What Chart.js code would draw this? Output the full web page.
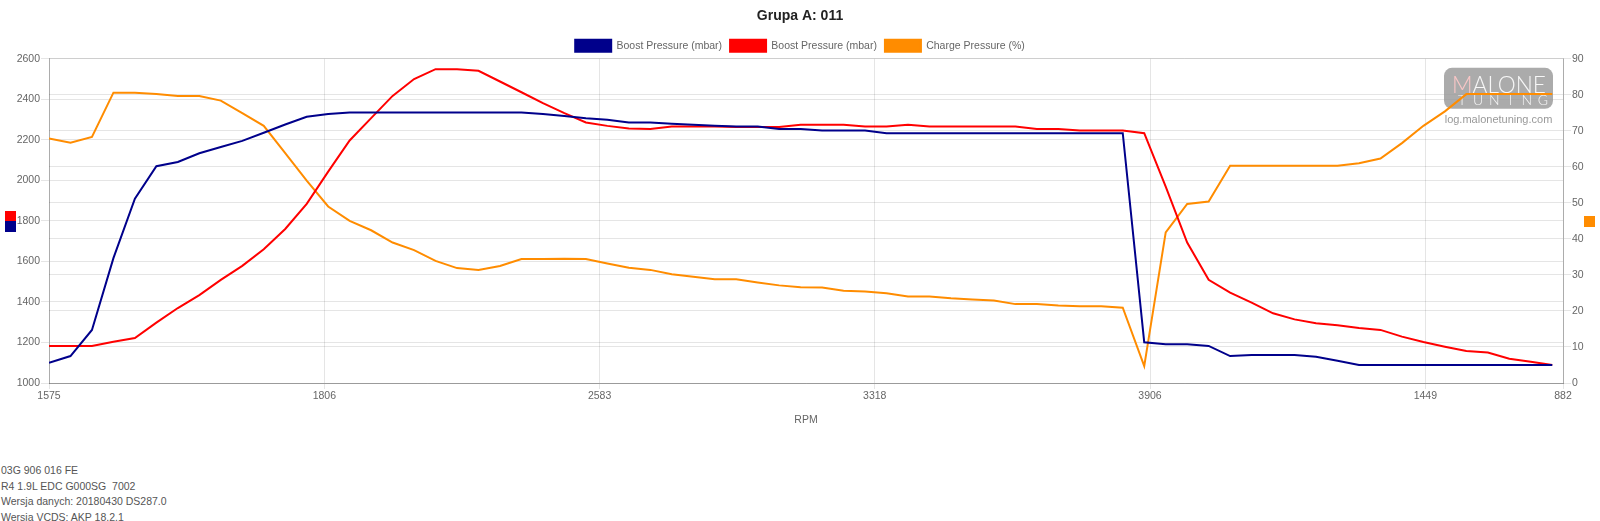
<!DOCTYPE html>
<html>
<head>
<meta charset="utf-8">
<title>Grupa A: 011</title>
<script src="https://cdn.jsdelivr.net/npm/chart.js@4.4.0/dist/chart.umd.min.js"></script>
<style>
  html, body { margin: 0; padding: 0; background: #fff; }
  #wrap { position: absolute; left: 0; top: 0; width: 1600px; height: 430px; }
  #info {
    position: absolute; left: 1px; top: 463px;
    font: 10.5px Arial, "Liberation Sans", sans-serif;
    line-height: 15.6px; color: #555; white-space: pre;
  }
</style>
</head>
<body>
<div id="wrap"><canvas id="logCanvas"></canvas></div>
<div id="info">03G 906 016 FE
R4 1.9L EDC G000SG  7002
Wersja danych: 20180430 DS287.0
Wersja VCDS: AKP 18.2.1</div>
<script>
// RPM labels that are shown on the x axis, and the sample position they sit at
var rpmTicks  = ['1575', '1806', '2583', '3318', '3906', '1449', '882'];
var rpmTickAt = [0, 12.82, 25.64, 38.45, 51.27, 64.09, 70.5];

// Boost Pressure (mbar) - specified
var boostSpec = [1100, 1133, 1262, 1616, 1910, 2070, 2091, 2134, 2165, 2195,
    2235, 2276, 2314, 2327, 2335, 2335, 2335, 2335, 2335, 2335,
    2335, 2335, 2335, 2327, 2318, 2307, 2299, 2286, 2286, 2280,
    2274, 2270, 2266, 2266, 2254, 2254, 2246, 2246, 2246, 2233,
    2233, 2233, 2233, 2233, 2233, 2233, 2233, 2233, 2233, 2233,
    2233, 1201, 1191, 1191, 1183, 1133, 1138, 1138, 1138, 1130,
    1110, 1089, 1089, 1089, 1089, 1089, 1089, 1089, 1089, 1089,
    1089];

// Boost Pressure (mbar) - actual
var boostActual = [1183, 1183, 1183, 1204, 1222, 1298, 1370, 1434, 1509, 1578,
    1660, 1760, 1884, 2043, 2197, 2307, 2417, 2500, 2549, 2549,
    2541, 2488, 2435, 2381, 2332, 2286, 2269, 2256, 2254, 2266,
    2266, 2266, 2264, 2264, 2264, 2274, 2274, 2274, 2266, 2266,
    2274, 2266, 2266, 2266, 2266, 2266, 2254, 2254, 2246, 2246,
    2246, 2233, 1969, 1693, 1509, 1446, 1397, 1344, 1314, 1295,
    1285, 1272, 1262, 1229, 1202, 1179, 1158, 1150, 1120, 1105,
    1089];

// Charge Pressure (%)
var chargePct = [67.9, 66.7, 68.3, 80.6, 80.6, 80.2, 79.7, 79.7, 78.4, 74.9,
    71.4, 63.8, 56.2, 49.0, 45.0, 42.4, 39.0, 36.9, 33.9, 31.9,
    31.4, 32.5, 34.4, 34.4, 34.5, 34.4, 33.2, 32.0, 31.4, 30.2,
    29.5, 28.8, 28.8, 27.9, 27.1, 26.6, 26.5, 25.6, 25.4, 24.9,
    24.0, 24.0, 23.5, 23.2, 22.9, 21.9, 21.9, 21.5, 21.3, 21.3,
    20.9, 4.7, 41.8, 49.7, 50.4, 60.3, 60.3, 60.3, 60.3, 60.3,
    60.3, 61.0, 62.3, 66.6, 71.4, 75.4, 80.2, 80.2, 80.2, 80.2,
    80.2];

var colBlue = '#00008b';
var colRed = '#ff0000';
var colOrange = '#ff8c00';

function toPoints(arr) {
    return arr.map(function (v, i) { return { x: i, y: v }; });
}

// legend sits a bit tighter on the plot than chart.js does by default
var legendTighten = {
    id: 'legendTighten',
    beforeLayout: function (chart) {
        var lg = chart.legend;
        if (!lg || lg._tight) return;
        var fit = lg.fit;
        lg.fit = function () {
            fit.call(this);
            this.height -= 3;
        };
        lg._tight = true;
    }
};

// coloured keys beside each y axis
var axisKeys = {
    id: 'axisKeys',
    afterDraw: function (chart) {
        var ctx = chart.ctx, a = chart.chartArea;
        var mid = Math.round((a.top + a.bottom) / 2);
        ctx.save();
        ctx.fillStyle = colRed;
        ctx.fillRect(5, mid - 10, 11, 10);
        ctx.fillStyle = colBlue;
        ctx.fillRect(5, mid, 11, 11);
        ctx.fillStyle = colOrange;
        ctx.fillRect(chart.width - 16, mid - 5, 11, 11);
        ctx.restore();
    }
};

// site watermark, top right of the plot
var logo = {
    id: 'logo',
    beforeDatasetsDraw: function (chart) {
        var ctx = chart.ctx, a = chart.chartArea;
        var x = a.right - 119, y = a.top + 9, w = 109, h = 41;
        ctx.save();
        ctx.fillStyle = 'rgba(150,150,150,0.8)';
        ctx.beginPath();
        if (ctx.roundRect) ctx.roundRect(x, y, w, h, 8); else ctx.rect(x, y, w, h);
        ctx.fill();

        ctx.textBaseline = 'alphabetic';
        ctx.font = '300 23px Lato';
        var tw = ctx.measureText('MALONE').width;
        var mw = ctx.measureText('M').width;
        ctx.save();
        ctx.translate(x + 8, y + 25);
        ctx.scale(94 / tw, 1);
        ctx.fillStyle = 'rgba(255,200,200,0.95)';
        ctx.fillText('M', 0, 0);
        ctx.fillStyle = 'rgba(255,255,255,0.9)';
        ctx.fillText('ALONE', mw, 0);
        ctx.restore();

        ctx.font = '300 14px Lato';
        ctx.textAlign = 'center';
        ctx.fillStyle = 'rgba(255,255,255,0.9)';
        'TUNING'.split('').forEach(function (c, i) {
            ctx.fillText(c, x + 18 + i * 16.2, y + 37);
        });

        ctx.font = '11px Arial';
        ctx.fillStyle = '#999';
        ctx.fillText('log.malonetuning.com', x + w / 2, y + 55);
        ctx.restore();
    }
};

Chart.defaults.font.family = 'Arial, "Liberation Sans", Helvetica, sans-serif';
Chart.defaults.font.size = 10.5;
Chart.defaults.color = '#666';

var gridCol = 'rgba(0,0,0,0.1)';
var axisCol = 'rgba(0,0,0,0.25)';

function plainNum(v) { return String(v); }

new Chart(document.getElementById('logCanvas'), {
    type: 'line',
    data: {
        datasets: [
            { label: 'Boost Pressure (mbar)', data: toPoints(boostSpec), yAxisID: 'yMbar',
              borderColor: colBlue, backgroundColor: colBlue },
            { label: 'Boost Pressure (mbar)', data: toPoints(boostActual), yAxisID: 'yMbar',
              borderColor: colRed, backgroundColor: colRed },
            { label: 'Charge Pressure (%)', data: toPoints(chargePct), yAxisID: 'yPct',
              borderColor: colOrange, backgroundColor: colOrange }
        ]
    },
    options: {
        responsive: true,
        maintainAspectRatio: false,
        animation: false,
        layout: { padding: 0 },
        elements: {
            line: { borderWidth: 2, tension: 0, fill: false },
            point: { radius: 0, hoverRadius: 0 }
        },
        plugins: {
            title: {
                display: true, text: 'Grupa A: 011', color: '#222',
                font: { size: 14, weight: 'bold' }, padding: { top: 8, bottom: 7 }
            },
            legend: {
                labels: { boxWidth: 36, boxHeight: 12, padding: 8, color: '#666' }
            },
            tooltip: { enabled: false }
        },
        scales: {
            x: {
                type: 'linear',
                min: 0,
                max: rpmTickAt[rpmTickAt.length - 1],
                afterBuildTicks: function (axis) {
                    axis.ticks = rpmTickAt.map(function (v) { return { value: v }; });
                },
                afterFit: function (axis) { axis.height = 47; },
                ticks: {
                    autoSkip: false, maxRotation: 0, padding: 1,
                    callback: function (v, i) { return rpmTicks[i]; }
                },
                grid: { color: gridCol, tickLength: 6 },
                border: { color: axisCol },
                title: { display: true, text: 'RPM', padding: { top: 4, bottom: 4 } }
            },
            yMbar: {
                position: 'left',
                min: 1000, max: 2600,
                afterFit: function (axis) { axis.width = 49; },
                ticks: { stepSize: 200, padding: 1, callback: plainNum },
                grid: { color: gridCol, tickLength: 8 },
                border: { color: axisCol }
            },
            yPct: {
                position: 'right',
                min: 0, max: 90,
                afterFit: function (axis) { axis.width = 37; },
                ticks: { stepSize: 10, padding: 1, callback: plainNum },
                grid: { color: gridCol, tickLength: 8 },
                border: { color: axisCol }
            }
        }
    },
    plugins: [legendTighten, axisKeys, logo]
});
</script>
</body>
</html>
